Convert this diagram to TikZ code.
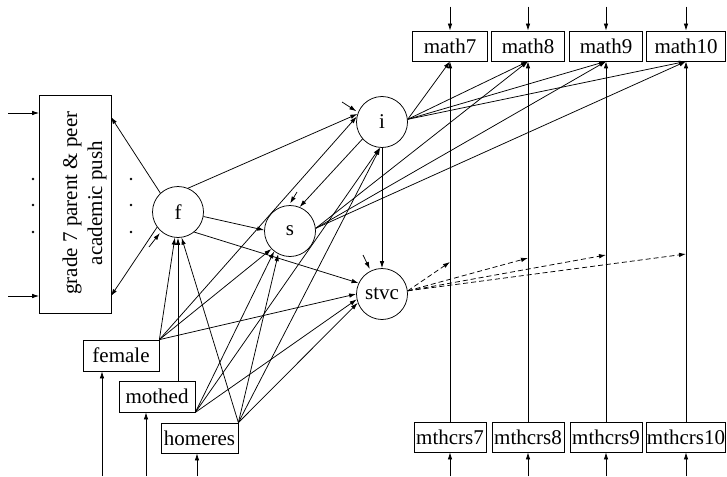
\documentclass[tikz,border=0pt]{standalone}
\usepackage{fontspec}
\setmainfont{Liberation Serif}
\usetikzlibrary{arrows.meta,calc}
\begin{document}
\begin{tikzpicture}[x=1pt,y=-1pt,
  every node/.style={font=\fontsize{21}{25}\selectfont, inner sep=0pt},
  obs/.style={draw, line width=0.75pt, minimum height=30pt},
  lat/.style={draw, circle, line width=0.75pt, minimum size=51pt},
  conn/.style={line width=0.75pt, -{Latex[length=7pt,width=4.5pt]}},
  dconn/.style={conn, dash pattern=on 5pt off 3pt},
  resid/.style={conn, shorten >=2pt}]
\useasboundingbox (0,0) rectangle (727,476);

% indicator box
\node[obs, minimum width=71.5pt, minimum height=218pt] (push) at (75.25,204) {};
\node[rotate=90, align=center] (pushtext) at (84.5,203) {grade 7 parent \& peer\\academic push};

% latent variables
\node[lat] (f) at (178,212) {f};
\node[lat] (i) at (382,122) {i};
\node[lat] (s) at (290,231) {s};
\node[lat] (stvc) at (382,294) {stvc};

% covariates
\node[obs, minimum width=76pt, minimum height=31pt] (female) at (121,355.5) {female};
\node[obs, minimum width=76pt, minimum height=31pt] (mothed) at (157,396.5) {mothed};
\node[obs, minimum width=77pt] (homeres) at (199.5,438) {homeres};

% outcomes
\node[obs, minimum width=75pt] (math7) at (450,46) {math7};
\node[obs, minimum width=73pt] (math8) at (528,46) {math8};
\node[obs, minimum width=73pt] (math9) at (606,46) {math9};
\node[obs, minimum width=79pt] (math10) at (686,46) {math10};

\node[obs, minimum width=72pt] (mthcrs7) at (450,437) {mthcrs7};
\node[obs, minimum width=72pt] (mthcrs8) at (528,437) {mthcrs8};
\node[obs, minimum width=72pt] (mthcrs9) at (606,437) {mthcrs9};
\node[obs, minimum width=79pt] (mthcrs10) at (686,437) {mthcrs10};

% dots
\foreach \yy in {179,205,232} {
  \fill (33,\yy) circle (1.3pt);
  \fill (131,\yy) circle (1.3pt);
}

% inputs to indicator box
\coordinate (lin1) at (8,113);
\coordinate (lin2) at (8,296);
\draw[conn] (lin1) -- (lin1 -| push.west);
\draw[conn] (lin2) -- (lin2 -| push.west);

% loadings
\coordinate (pa) at (111,117);
\coordinate (pb) at (111,296);
\draw[conn] (f.133) -- (pa);
\draw[conn] (f.216) -- (pb);

% residuals
\coordinate (fres) at (149,247);
\coordinate (ires) at (342,102);
\coordinate (sres) at (297,192);
\coordinate (stres) at (363,255);
\draw[resid] (fres) -- (f.229);
\draw[resid] (ires) -- (i.158);
\draw[resid] (sres) -- (s.92);
\draw[resid] (stres) -- (stvc.116);

% structural paths
\draw[conn] (f.67) -- (i.162);
\draw[conn] (f.350) -- (s.178);
\draw[conn] (f.309) -- (stvc.155);
\draw[conn] (i.221) -- (s.68);
\draw[conn] (i.south) -- (stvc.north);

\foreach \n in {7,8,9,10} {
  \draw[conn] (i.6) -- (math\n.south);
  \draw[conn] (mthcrs\n.north) -- (math\n.south);
  \draw[conn] ($(math\n.north)+(0,-24)$) -- (math\n.north);
  \draw[conn] ($(mthcrs\n.south)+(0,24)$) -- (mthcrs\n.south);
}
\foreach \n in {8,9,10} {
  \draw[conn] (s.6) -- (math\n.south);
}

% interaction (dashed)
\coordinate (d7) at (450,262);
\coordinate (d8) at (528,258);
\coordinate (d9) at (606,255);
\coordinate (d10) at (686,254);
\foreach \n in {7,8,9,10} {
  \draw[dconn] (stvc.7) -- (d\n);
}

% covariate paths
\draw[conn] (female.north east) -- (f.263);
\draw[conn] (female.north east) -- (i.168);
\draw[conn] (female.north east) -- (s.224);
\draw[conn] (female.north east) -- (stvc.180);

\draw[conn] (mothed.north -| f.south) -- (f.south);
\draw[conn] (mothed.south east) -- (s.232);
\draw[conn] (mothed.south east) -- (i.265);
\draw[conn] (mothed.south east) -- (stvc.192);

\draw[conn] (homeres.north east) -- (f.278);
\draw[conn] (homeres.north east) -- (s.243);
\draw[conn] (homeres.north east) -- (i.266);
\draw[conn] (homeres.north east) -- (stvc.200);

% covariate inputs
\coordinate (fin) at (102,476);
\coordinate (min) at (146,476);
\coordinate (hin) at (197,476);
\draw[conn] (fin) -- (fin |- female.south);
\draw[conn] (min) -- (min |- mothed.south);
\draw[conn] (hin) -- (hin |- homeres.south);
\end{tikzpicture}
\end{document}
